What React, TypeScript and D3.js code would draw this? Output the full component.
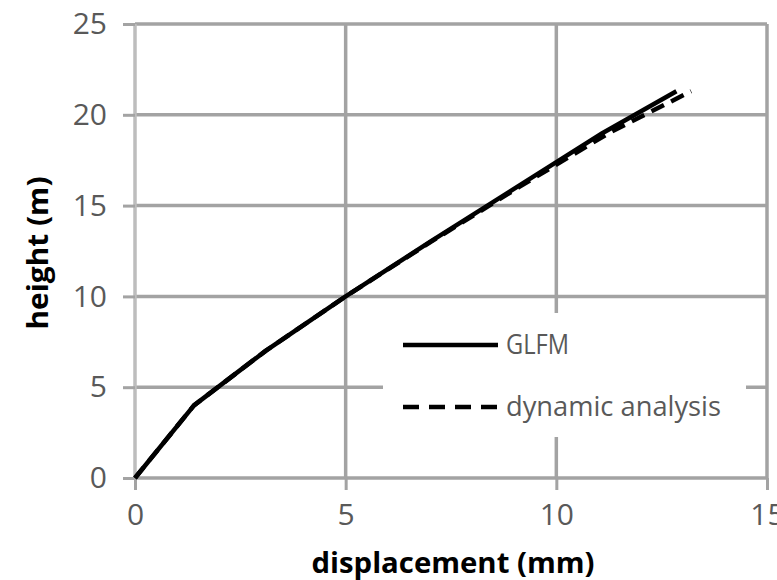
import React, { useEffect, useRef } from "react";
import * as d3 from "d3";

const width = 777;
const height = 580;
const margin = { top: 24, right: 10, bottom: 102, left: 135 };

// storey heights (m) and lateral displacements (mm)
const storeyHeight = [0, 4, 7, 10, 13, 16, 19, 21.3];
const glfmDisp = [0, 1.4, 3.1, 5.0, 7.0, 9.05, 11.1, 12.85];
const dynamicDisp = [0, 1.4, 3.1, 5.0, 7.02, 9.1, 11.25, 13.2];

const xTicks = [0, 5, 10, 15];
const yTicks = [0, 5, 10, 15, 20, 25];

const seriesNames = ["GLFM", "dynamic analysis"];

const gridColor = "#a3a3a3";
const labelColor = "#595959";
const font = "'Open Sans', sans-serif";

export default function App() {
  const axisRef = useRef<SVGGElement>(null);

  const x = d3.scaleLinear().domain([0, 15]).range([margin.left, width - margin.right]);
  const y = d3.scaleLinear().domain([0, 25]).range([height - margin.bottom, margin.top]);

  const line = d3
    .line<[number, number]>()
    .x((d) => x(d[0]))
    .y((d) => y(d[1]));

  const glfm: [number, number][] = glfmDisp.map((d, i) => [d, storeyHeight[i]]);
  const dynamic: [number, number][] = dynamicDisp.map((d, i) => [d, storeyHeight[i]]);

  useEffect(() => {
    const g = d3.select(axisRef.current);
    g.selectAll("*").remove();

    const xAxis = d3.axisBottom(x).tickValues(xTicks).tickSize(12).tickPadding(14).tickFormat(d3.format("d"));
    const yAxis = d3.axisLeft(y).tickValues(yTicks).tickSize(12).tickPadding(16).tickFormat(d3.format("d"));

    const gx = g.append("g").attr("transform", `translate(0,${height - margin.bottom})`).call(xAxis);
    const gy = g.append("g").attr("transform", `translate(${margin.left},0)`).call(yAxis);

    [gx, gy].forEach((a) => {
      a.select(".domain").remove();
      a.selectAll(".tick line").attr("stroke", gridColor).attr("stroke-width", 3);
      a.selectAll(".tick text")
        .attr("fill", labelColor)
        .style("font-family", font)
        .style("font-size", "30px");
    });
    gx.selectAll(".tick text").attr("dy", "0.71em");
  }, []);

  const legendX = 403;
  const legendY = [345, 407];

  return (
    <svg
      width={width}
      height={height}
      style={{ position: "absolute", left: 0, top: 0, background: "#fff" }}
    >
      {/* gridlines */}
      <g>
        {yTicks.map((t) => (
          <line
            key={"gy" + t}
            x1={x(0)}
            x2={x(15)}
            y1={y(t)}
            y2={y(t)}
            stroke={gridColor}
            strokeWidth={3.5}
          />
        ))}
        {xTicks.map((t) => (
          <line
            key={"gx" + t}
            x1={x(t)}
            x2={x(t)}
            y1={y(0)}
            y2={y(25)}
            stroke={t === 0 ? "#bdbdbd" : gridColor}
            strokeWidth={3.5}
          />
        ))}
      </g>

      <g ref={axisRef} />

      {/* series */}
      <path d={line(glfm) ?? ""} fill="none" stroke="#000" strokeWidth={4.5} strokeLinejoin="round" />
      <path
        d={line(dynamic) ?? ""}
        fill="none"
        stroke="#000"
        strokeWidth={4.5}
        strokeDasharray="14 8"
      />

      {/* legend */}
      <rect x={383} y={313} width={363} height={124} fill="#fff" />
      <line x1={legendX} x2={legendX + 95} y1={legendY[0]} y2={legendY[0]} stroke="#000" strokeWidth={4.5} />
      <line
        x1={legendX}
        x2={legendX + 95}
        y1={legendY[1]}
        y2={legendY[1]}
        stroke="#000"
        strokeWidth={4.5}
        strokeDasharray="16 10"
      />
      {seriesNames.map((s, i) => (
        <text
          key={s}
          x={legendX + 103}
          y={legendY[i]}
          dy="0.35em"
          fill={labelColor}
          textLength={i === 0 ? 63 : 215}
          lengthAdjust="spacingAndGlyphs"
          style={{ fontFamily: font, fontSize: 27 }}
        >
          {s}
        </text>
      ))}

      {/* axis titles */}
      <text
        x={453}
        y={563}
        textAnchor="middle"
        dy="0.35em"
        textLength={283}
        lengthAdjust="spacingAndGlyphs"
        style={{ fontFamily: font, fontSize: 28, fontWeight: "bold" }}
      >
        displacement (mm)
      </text>
      <text
        transform={`translate(38,253) rotate(-90)`}
        textAnchor="middle"
        dy="0.35em"
        textLength={153}
        lengthAdjust="spacingAndGlyphs"
        style={{ fontFamily: font, fontSize: 28, fontWeight: "bold" }}
      >
        height (m)
      </text>
    </svg>
  );
}
